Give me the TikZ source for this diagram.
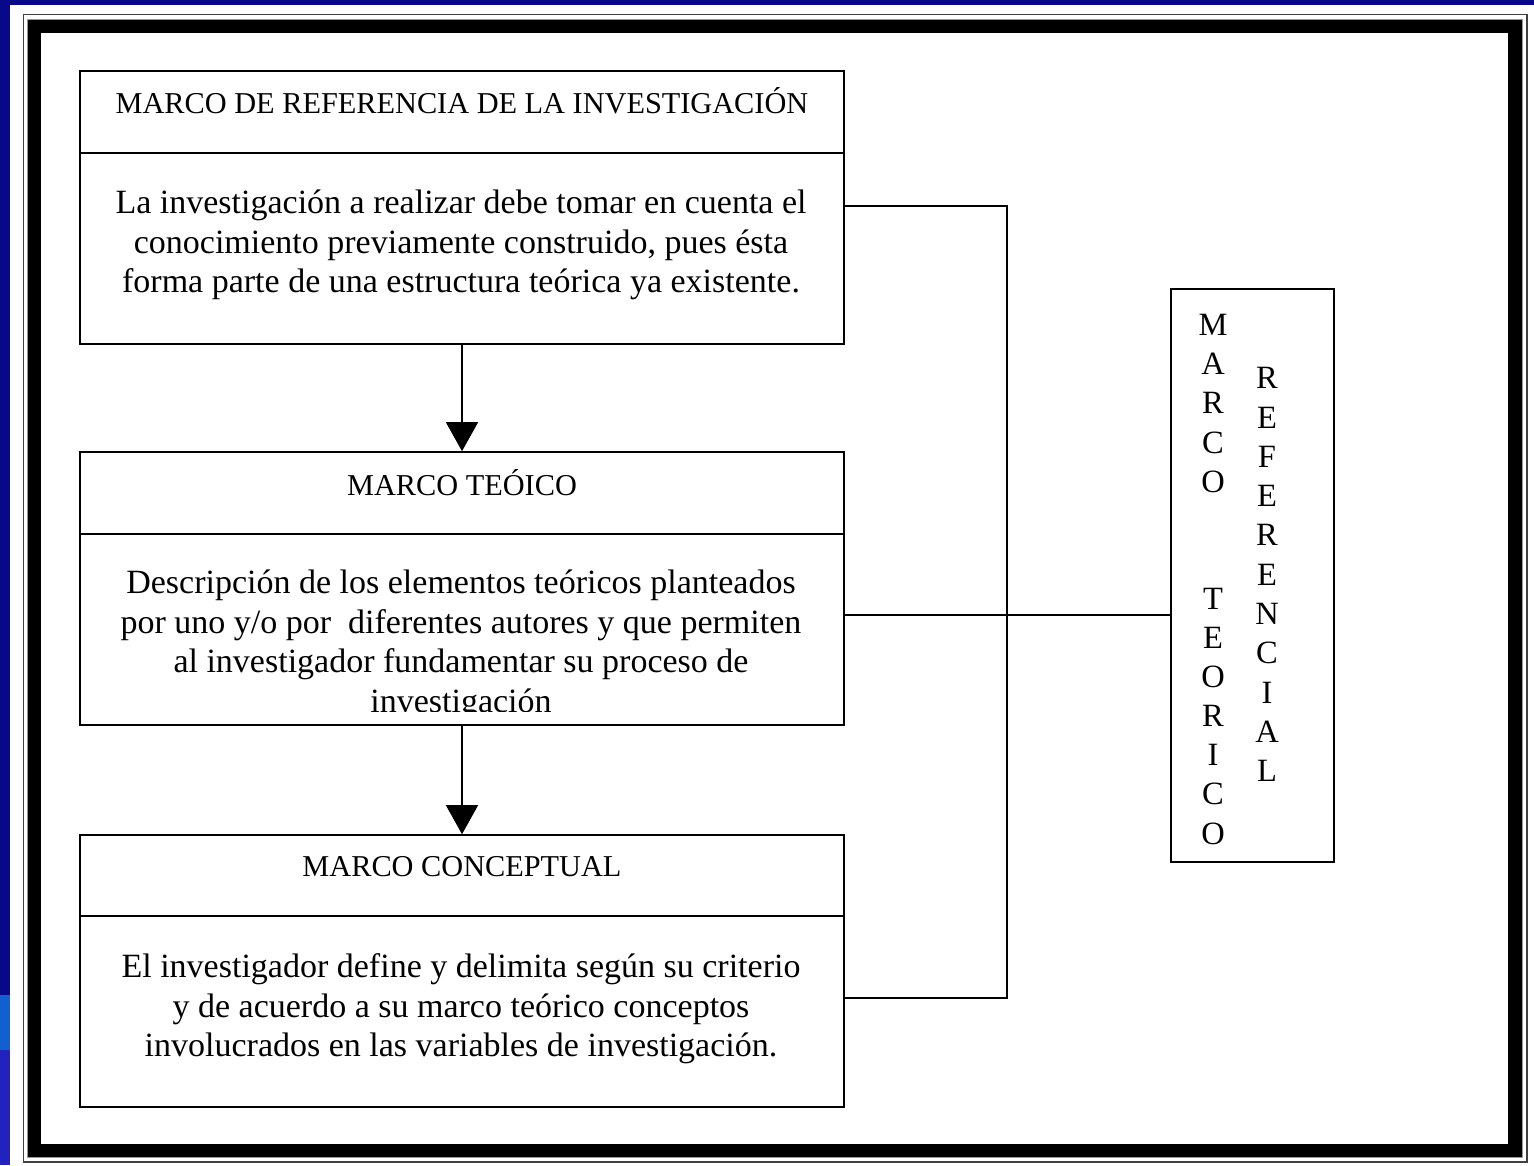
\documentclass[tikz,border=0pt]{standalone}
\usepackage{fontspec}
\setmainfont{Liberation Serif}
\usetikzlibrary{arrows.meta}
\definecolor{bgnavy}{RGB}{8,8,138}
\definecolor{stripA}{RGB}{16,96,208}
\definecolor{stripB}{RGB}{34,34,190}
\begin{document}
\begin{tikzpicture}[x=1pt,y=-1pt,
  boxframe/.style={draw=black, line width=1.6pt, minimum width=764pt, inner sep=0pt},
  headtxt/.style={font=\fontsize{30.3}{34}\selectfont, text height=20pt, text depth=0pt, inner sep=0pt},
  bodytxt/.style={font=\fontsize{34}{39.5}\selectfont, align=center, inner sep=0pt},
  vletter/.style={font=\fontsize{32.5}{32.5}\selectfont, text height=21.5pt, text depth=0pt, inner sep=0pt},
  conn/.style={draw=black, line width=1.5pt},
  flow/.style={conn, -{Triangle[width=32pt,length=29pt]}}]
\useasboundingbox (0,0) rectangle (1534,1165);
% background
\fill[bgnavy] (0,0) rectangle (1534,1165);
\fill[white] (10,5) rectangle (1534,1165);
\fill[stripA] (0,995) rectangle (10,1050);
\fill[stripB] (0,1050) rectangle (10,1165);
% frame
\draw[line width=13.5pt] (34.5,26) rectangle (1515,1150.5);
\draw[line width=1.5pt, black!75] (23.5,14.5) rectangle (1527,1162);
\draw[line width=0.8pt, black!40] (27.6,19.1) rectangle (1521.9,1157.4);
% boxes
\node[boxframe, minimum height=273pt] (b1) at (462,207.5) {};
\node[boxframe, minimum height=273pt] (b2) at (462,588.5) {};
\node[boxframe, minimum height=272pt] (b3) at (462,971) {};
\node[boxframe, minimum width=163pt, minimum height=573pt] (R) at (1252.5,575.5) {};
\draw[line width=1.6pt] (b1.west |- 0,153) -- (b1.east |- 0,153);
\draw[line width=1.6pt] (b2.west |- 0,534) -- (b2.east |- 0,534);
\draw[line width=1.6pt] (b3.west |- 0,916) -- (b3.east |- 0,916);
% arrows
\draw[flow] (b1.south) -- (b2.north);
\draw[flow] (b2.south) -- (b3.north);
% connectors
\coordinate (j) at (1007,206);
\draw[conn] (b1.east |- j) -- (j) -- (j |- 0,998) -- (b3.east |- 0,998);
\draw[conn] (b2.east |- 0,615) -- (R.west |- 0,615);
% texts
\node[headtxt] (h1) at (462,103) {MARCO DE REFERENCIA DE LA INVESTIGACIÓN};
\node[bodytxt] (t1) at (461,245) {La investigación a realizar debe tomar en cuenta el\\conocimiento previamente construido, pues ésta\\forma parte de una estructura teórica ya existente.};
\node[headtxt] (h2) at (462,485) {MARCO TEÓICO};
\begin{scope}
\clip (80,534) rectangle (844,711);
\node[bodytxt] (t2) at (461,645) {Descripción de los elementos teóricos planteados\\por uno y/o por~ diferentes autores y que permiten\\al investigador fundamentar su proceso de\\investigación};
\end{scope}
\node[headtxt] (h3) at (462,866) {MARCO CONCEPTUAL};
\node[bodytxt] (t3) at (461,1009) {El investigador define y delimita según su criterio\\y de acuerdo a su marco teórico conceptos\\involucrados en las variables de investigación.};
% vertical words
\foreach \l/\k [count=\i] in {M/0,A/1,R/2,C/3,O/4,T/7,E/8,O/9,R/10,I/11,C/12,O/13}
  \node[vletter] (lv\i) at (1213,325+39.1*\k) {\l};
\foreach \l/\k [count=\i] in {R/0,E/1,F/2,E/3,R/4,E/5,N/6,C/7,I/8,A/9,L/10}
  \node[vletter] (rv\i) at (1267,378+39.3*\k) {\l};
\end{tikzpicture}
\end{document}
